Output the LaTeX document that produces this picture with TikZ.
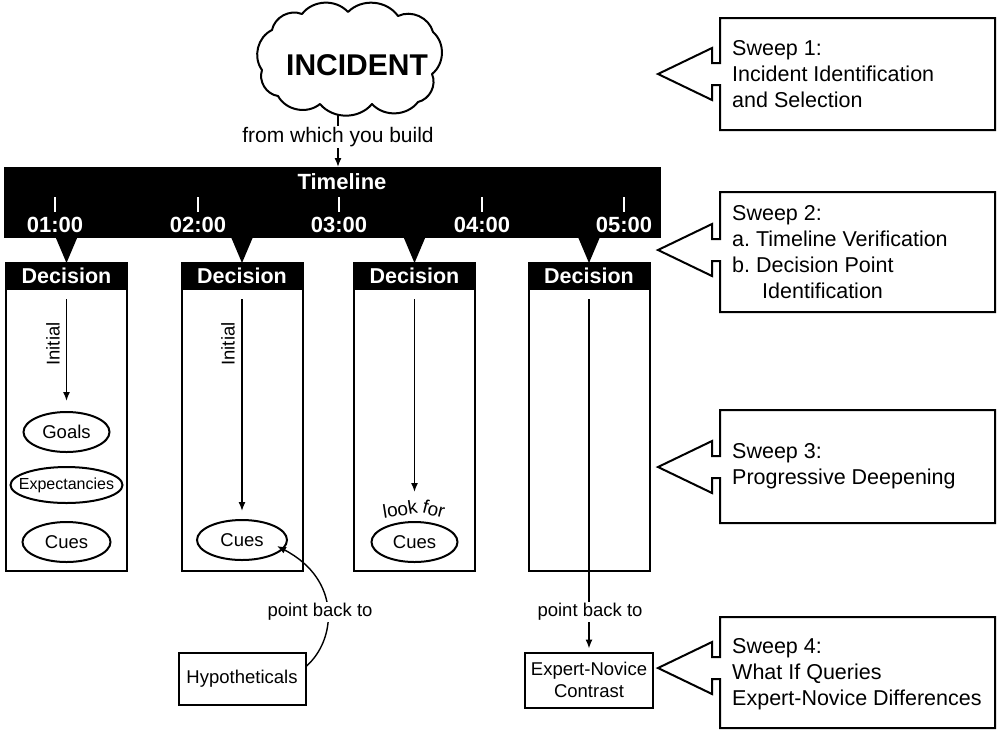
\documentclass[tikz,border=0pt]{standalone}
\usepackage{fontspec}
\setmainfont{Liberation Sans}
\usetikzlibrary{shapes.geometric,arrows.meta,calc}
\begin{document}
\frenchspacing
\begin{tikzpicture}[x=1pt,y=-1pt,
  arr/.style={-{Latex[length=9pt,width=7pt]}, line width=1.4},
  dbody/.style={draw, line width=2, minimum width=121, minimum height=308, anchor=north, inner sep=0},
  dhead/.style={draw, fill=black, text=white, line width=2, minimum width=121, minimum height=26, anchor=north, inner sep=0, font=\fontsize{21.5}{22}\selectfont\bfseries},
  tick/.style={draw=white, line width=2},
  tlab/.style={text=white, font=\fontsize{22}{22}\selectfont\bfseries, inner sep=0},
  oval/.style={draw, ellipse, line width=2, inner sep=0, minimum width=86, minimum height=40, font=\fontsize{18.5}{20}\selectfont},
  sm/.style={font=\fontsize{18.5}{22}\selectfont, inner sep=1pt},
  rbox/.style={draw, line width=2, inner sep=0, align=center, font=\fontsize{18.5}{22}\selectfont},
  sweep/.style={line width=2, line join=miter},
  swtext/.style={anchor=west, align=left, inner sep=0, font=\fontsize{21.5}{26}\selectfont},
  puff/.style={bend left=50},
]
\useasboundingbox (0,0) rectangle (1000,732);

% cloud
\draw[line width=2, line join=round]
  (262,70) to[puff] (272,30) to[puff] (302,14) to[puff] (348,12) to[puff] (398,16)
  to[puff] (433,32) to[puff] (432,74) to[puff] (418,102) to[puff] (372,104)
  to[puff] (320,104) to[puff] (278,96) to[puff] cycle;
\node[inner sep=0, font=\fontsize{30}{30}\selectfont\bfseries] (inc) at (357,65) {INCIDENT};

% timeline bar
\node[fill=black, minimum width=657, minimum height=71, anchor=north west, inner sep=0] (tl) at (4,167) {};
\node[tlab] (ttl) at (342,182) {Timeline};
\foreach \x/\t [count=\i] in {55/01:00, 198/02:00, 339/03:00, 482/04:00, 624/05:00} {
  \draw[tick] (\x,197) -- (\x,212);
  \node[tlab] (t\i) at (\x,225) {\t};
}

% arrow from incident
\coordinate (a0) at (338,115);
\draw[arr] (a0) -- (a0 |- tl.north);
\node[sm, fill=white, font=\fontsize{21}{22}\selectfont] (fw) at (338,137) {from which you build};

% decision boxes
\foreach \x [count=\i] in {66.5,242,414.5,589} {
  \fill (\x-11,237) -- (\x+11,237) -- (\x,263) -- cycle;
  \node[dbody] (b\i) at (\x,262) {};
  \node[dhead] (h\i) at (\x,262) {Decision};
}

% box 1
\node[oval] (g1) at (66.5,432) {Goals};
\node[oval, minimum width=112, minimum height=36, font=\fontsize{16}{16}\selectfont] (e1) at (66.5,485) {\makebox[0pt]{Expectancies}};
\node[oval, minimum width=88] (c1) at (66.5,542) {Cues};
\draw[arr] ($(h1.south)+(0,9)$) -- ($(g1.north)+(0,-10)$);
\node[sm, rotate=90] (i1) at (53,344) {Initial};

% box 2
\node[oval, minimum width=90] (c2) at (242,540) {Cues};
\draw[arr] ($(h2.south)+(0,9)$) -- ($(c2.north)+(0,-8)$);
\node[sm, rotate=90] (i2) at (228,344) {Initial};

% box 3
\node[oval] (c3) at (414.5,542) {Cues};
\coordinate (lf) at ($(c3.north)+(0,-29)$);
\draw[arr] ($(h3.south)+(0,9)$) -- (lf);
\node[inner sep=0, rotate=9, font=\fontsize{19}{19}\selectfont] (lk) at (400,509) {look};
\node[inner sep=0, rotate=-14, font=\fontsize{19}{19}\selectfont] (fo) at (434,509) {for};

% box 4
\node[rbox, minimum width=128, minimum height=55] (en) at (589,680) {Expert-Novice\\Contrast};
\draw[arr] ($(h4.south)+(0,9)$) -- ($(en.north)+(0,-3)$);
\node[sm, fill=white] (pb2) at (590,612) {point back to};

% hypotheticals
\node[rbox, minimum width=127, minimum height=52] (hy) at (242,679) {Hypotheticals};
\draw[arr] ($(hy.north east)+(0,14)$) .. controls (336,640) and (342,580) .. ($(c2.center)+(35,6)$);
\node[sm, fill=white] (pb1) at (320,612) {point back to};

% sweep boxes
\foreach \T/\B/\C in {18/130/74, 192/312/250, 410/523/467, 617/728/668} {
  \draw[sweep] (720,\T) -- (995,\T) -- (995,\B) -- (720,\B) -- (720,\C+11) -- (712,\C+11)
     -- (712,\C+26) -- (658,\C) -- (712,\C-26) -- (712,\C-11) -- (720,\C-11) -- cycle;
}
\node[swtext] (sw1) at (732,74) {Sweep 1:\\Incident Identification\\and Selection};
\node[swtext] (sw2) at (732,252) {Sweep 2:\\a. Timeline Verification\\b. Decision Point\\\hspace*{30pt}Identification};
\node[swtext] (sw3) at (732,466) {Sweep 3:\\Progressive Deepening};
\node[swtext] (sw4) at (732,674) {Sweep 4:\\What If Queries\\Expert-Novice Differences};
\end{tikzpicture}
\end{document}
